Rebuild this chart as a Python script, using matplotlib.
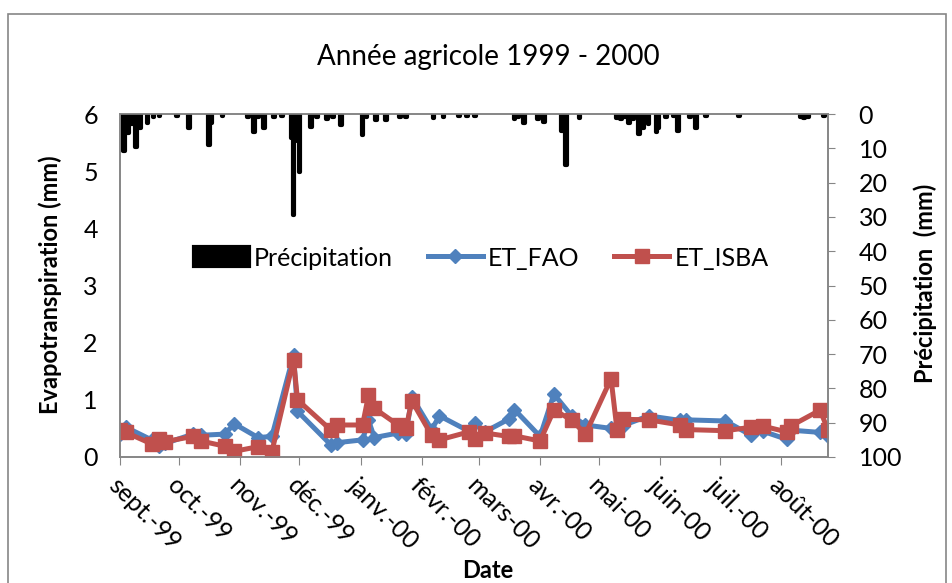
import numpy as np
import pandas as pd
import matplotlib
matplotlib.use("Agg")
import matplotlib.pyplot as plt
from matplotlib.patches import Rectangle

plt.rcParams['font.family'] = ['Lato', 'DejaVu Sans']

# --- data ---
et_dates = ['1999-09-01', '1999-09-04', '1999-09-17', '1999-09-21', '1999-09-24',
            '1999-10-08', '1999-10-12', '1999-10-24', '1999-10-29', '1999-11-10',
            '1999-11-17', '1999-11-28', '1999-11-30', '1999-12-17', '1999-12-20',
            '2000-01-02', '2000-01-05', '2000-01-08', '2000-01-20', '2000-01-24',
            '2000-01-27', '2000-02-06', '2000-02-10', '2000-02-25', '2000-02-28',
            '2000-03-04', '2000-03-16', '2000-03-19', '2000-04-01', '2000-04-08',
            '2000-04-17', '2000-04-24', '2000-05-07', '2000-05-10', '2000-05-13',
            '2000-05-26', '2000-06-11', '2000-06-14', '2000-07-04', '2000-07-17',
            '2000-07-23', '2000-08-04', '2000-08-06', '2000-08-21', '2000-08-25']
et_fao = [0.40, 0.52, 0.30, 0.20, 0.24,
          0.40, 0.38, 0.40, 0.58, 0.34,
          0.36, 1.78, 0.80, 0.21, 0.25,
          0.30, 0.64, 0.34, 0.42, 0.40,
          1.05, 0.48, 0.72, 0.45, 0.60,
          0.44, 0.66, 0.83, 0.36, 1.10,
          0.72, 0.56, 0.50, 0.47, 0.55,
          0.72, 0.64, 0.65, 0.63, 0.38,
          0.45, 0.31, 0.47, 0.43, 0.36]
et_isba = [0.47, 0.43, 0.23, 0.31, 0.27,
           0.36, 0.28, 0.19, 0.10, 0.18,
           0.09, 1.70, 1.00, 0.47, 0.56,
           0.56, 1.08, 0.85, 0.56, 0.50,
           0.98, 0.38, 0.30, 0.44, 0.32,
           0.42, 0.36, 0.37, 0.28, 0.82,
           0.65, 0.40, 1.37, 0.48, 0.66,
           0.65, 0.56, 0.48, 0.46, 0.52,
           0.54, 0.44, 0.54, 0.82, 0.47]

rain_dates = ['1999-09-03', '1999-09-05', '1999-09-07', '1999-09-09', '1999-09-11',
              '1999-09-15', '1999-09-18', '1999-09-21', '1999-09-30', '1999-10-06',
              '1999-10-16', '1999-10-17', '1999-10-23', '1999-11-05', '1999-11-08',
              '1999-11-10', '1999-11-13', '1999-11-18', '1999-11-22', '1999-11-27',
              '1999-11-28', '1999-11-30', '1999-12-01', '1999-12-07', '1999-12-10',
              '1999-12-15', '1999-12-18', '1999-12-22', '2000-01-02', '2000-01-04',
              '2000-01-09', '2000-01-14', '2000-01-21', '2000-01-24', '2000-02-07',
              '2000-02-12', '2000-02-20', '2000-02-24', '2000-02-28', '2000-03-19',
              '2000-03-21', '2000-03-24', '2000-03-31', '2000-04-03', '2000-04-12',
              '2000-04-14', '2000-04-21', '2000-05-10', '2000-05-12', '2000-05-14',
              '2000-05-16', '2000-05-18', '2000-05-21', '2000-05-23', '2000-05-26',
              '2000-05-30', '2000-05-31', '2000-06-04', '2000-06-08', '2000-06-10',
              '2000-06-16', '2000-06-19', '2000-06-24', '2000-07-11', '2000-08-11',
              '2000-08-13', '2000-08-15', '2000-08-23']
rain_mm = [10.7, 5.5, 3.0, 9.6, 4.0,
           2.7, 1.0, 0.5, 0.5, 4.2,
           9.0, 2.5, 0.5, 0.8, 5.2,
           1.0, 4.2, 1.0, 0.7, 7.0,
           29.5, 8.0, 16.8, 3.7, 1.0,
           1.5, 0.8, 3.2, 6.0, 0.8,
           1.7, 1.7, 1.0, 0.8, 1.2,
           0.8, 0.6, 0.5, 0.6, 1.5,
           1.0, 2.6, 1.5, 2.3, 5.0,
           14.8, 1.2, 1.2, 1.5, 0.8,
           2.6, 1.5, 5.8, 4.0, 3.0,
           5.2, 4.0, 0.8, 0.7, 4.9,
           0.8, 4.1, 0.6, 0.5, 1.0,
           1.3, 1.0, 0.6]

month_labels = ['sept.-99', 'oct.-99', 'nov.-99', 'déc.-99', 'janv.-00', 'févr.-00',
                'mars-00', 'avr.-00', 'mai-00', 'juin-00', 'juil.-00', 'août-00']

et_x = pd.to_datetime(et_dates)
rain_x = pd.to_datetime(rain_dates)
month_ticks = pd.date_range('1999-09-01', periods=12, freq='MS')

blue = '#4F81BD'
red = '#C0504D'
grey = '#868686'
fs = 18

fig = plt.figure(figsize=(9.53, 5.83), dpi=100)
W, H = 953.0, 583.0
ax = fig.add_axes([120 / W, 1 - 457 / H, (828 - 120) / W, (457 - 114) / H])
ax2 = ax.twinx()

# outer chart border
fig.patches.append(Rectangle((8 / W, -0.05), (946 - 8) / W, 1 - 14 / H + 0.05,
                             transform=fig.transFigure, fill=False,
                             edgecolor=grey, linewidth=1.2))

l1, = ax.plot(et_x, et_fao, color=blue, lw=3.6, marker='D', ms=7.5,
              label='ET_FAO', zorder=3)
l2, = ax.plot(et_x, et_isba, color=red, lw=3.6, marker='s', ms=9.5,
              label='ET_ISBA', zorder=4)

bars = ax2.bar(rain_x, rain_mm, width=0.9, color='black', edgecolor='black',
               linewidth=3, joinstyle='round', label='Précipitation')

ax.set_xlim(pd.Timestamp('1999-09-01'), pd.Timestamp('2000-08-25'))
ax.set_ylim(0, 6)
ax.set_yticks(range(0, 7))
ax2.set_ylim(100, 0)
ax2.set_yticks(range(0, 101, 10))

ax.set_xticks(month_ticks)
ax.set_xticklabels(month_labels, rotation=-45, ha='left', va='top',
                   rotation_mode='anchor')
ax.tick_params(axis='x', direction='out', length=6, color=grey, labelsize=fs, pad=6)
ax.tick_params(axis='y', length=0, labelsize=fs, pad=16)
ax2.tick_params(axis='y', direction='out', length=5, color=grey, labelsize=fs, pad=17)

for a in (ax, ax2):
    for s in a.spines.values():
        s.set_color(grey)
        s.set_linewidth(1.2)

fig.text(488 / W, 1 - 57 / H, 'Année agricole 1999 - 2000', ha='center',
         va='center', fontsize=20)
fig.text(50 / W, 1 - 285 / H, 'Evapotranspiration (mm)', rotation=90,
         ha='center', va='center', fontsize=17, fontweight='bold')
fig.text(925 / W, 1 - 283 / H, 'Précipitation  (mm)', rotation=90,
         ha='center', va='center', fontsize=17, fontweight='bold')
fig.text(488 / W, 1 - 570 / H, 'Date', ha='center', va='center',
         fontsize=17, fontweight='bold')

ax2.legend([bars, l1, l2], ['Précipitation', 'ET_FAO', 'ET_ISBA'],
           loc='center', bbox_to_anchor=(0.51, 0.58), ncol=3, frameon=False,
           fontsize=fs, handlelength=2.2, handleheight=0.8,
           handletextpad=0.2, columnspacing=1.4)

fig.savefig('out.png', dpi=100)
